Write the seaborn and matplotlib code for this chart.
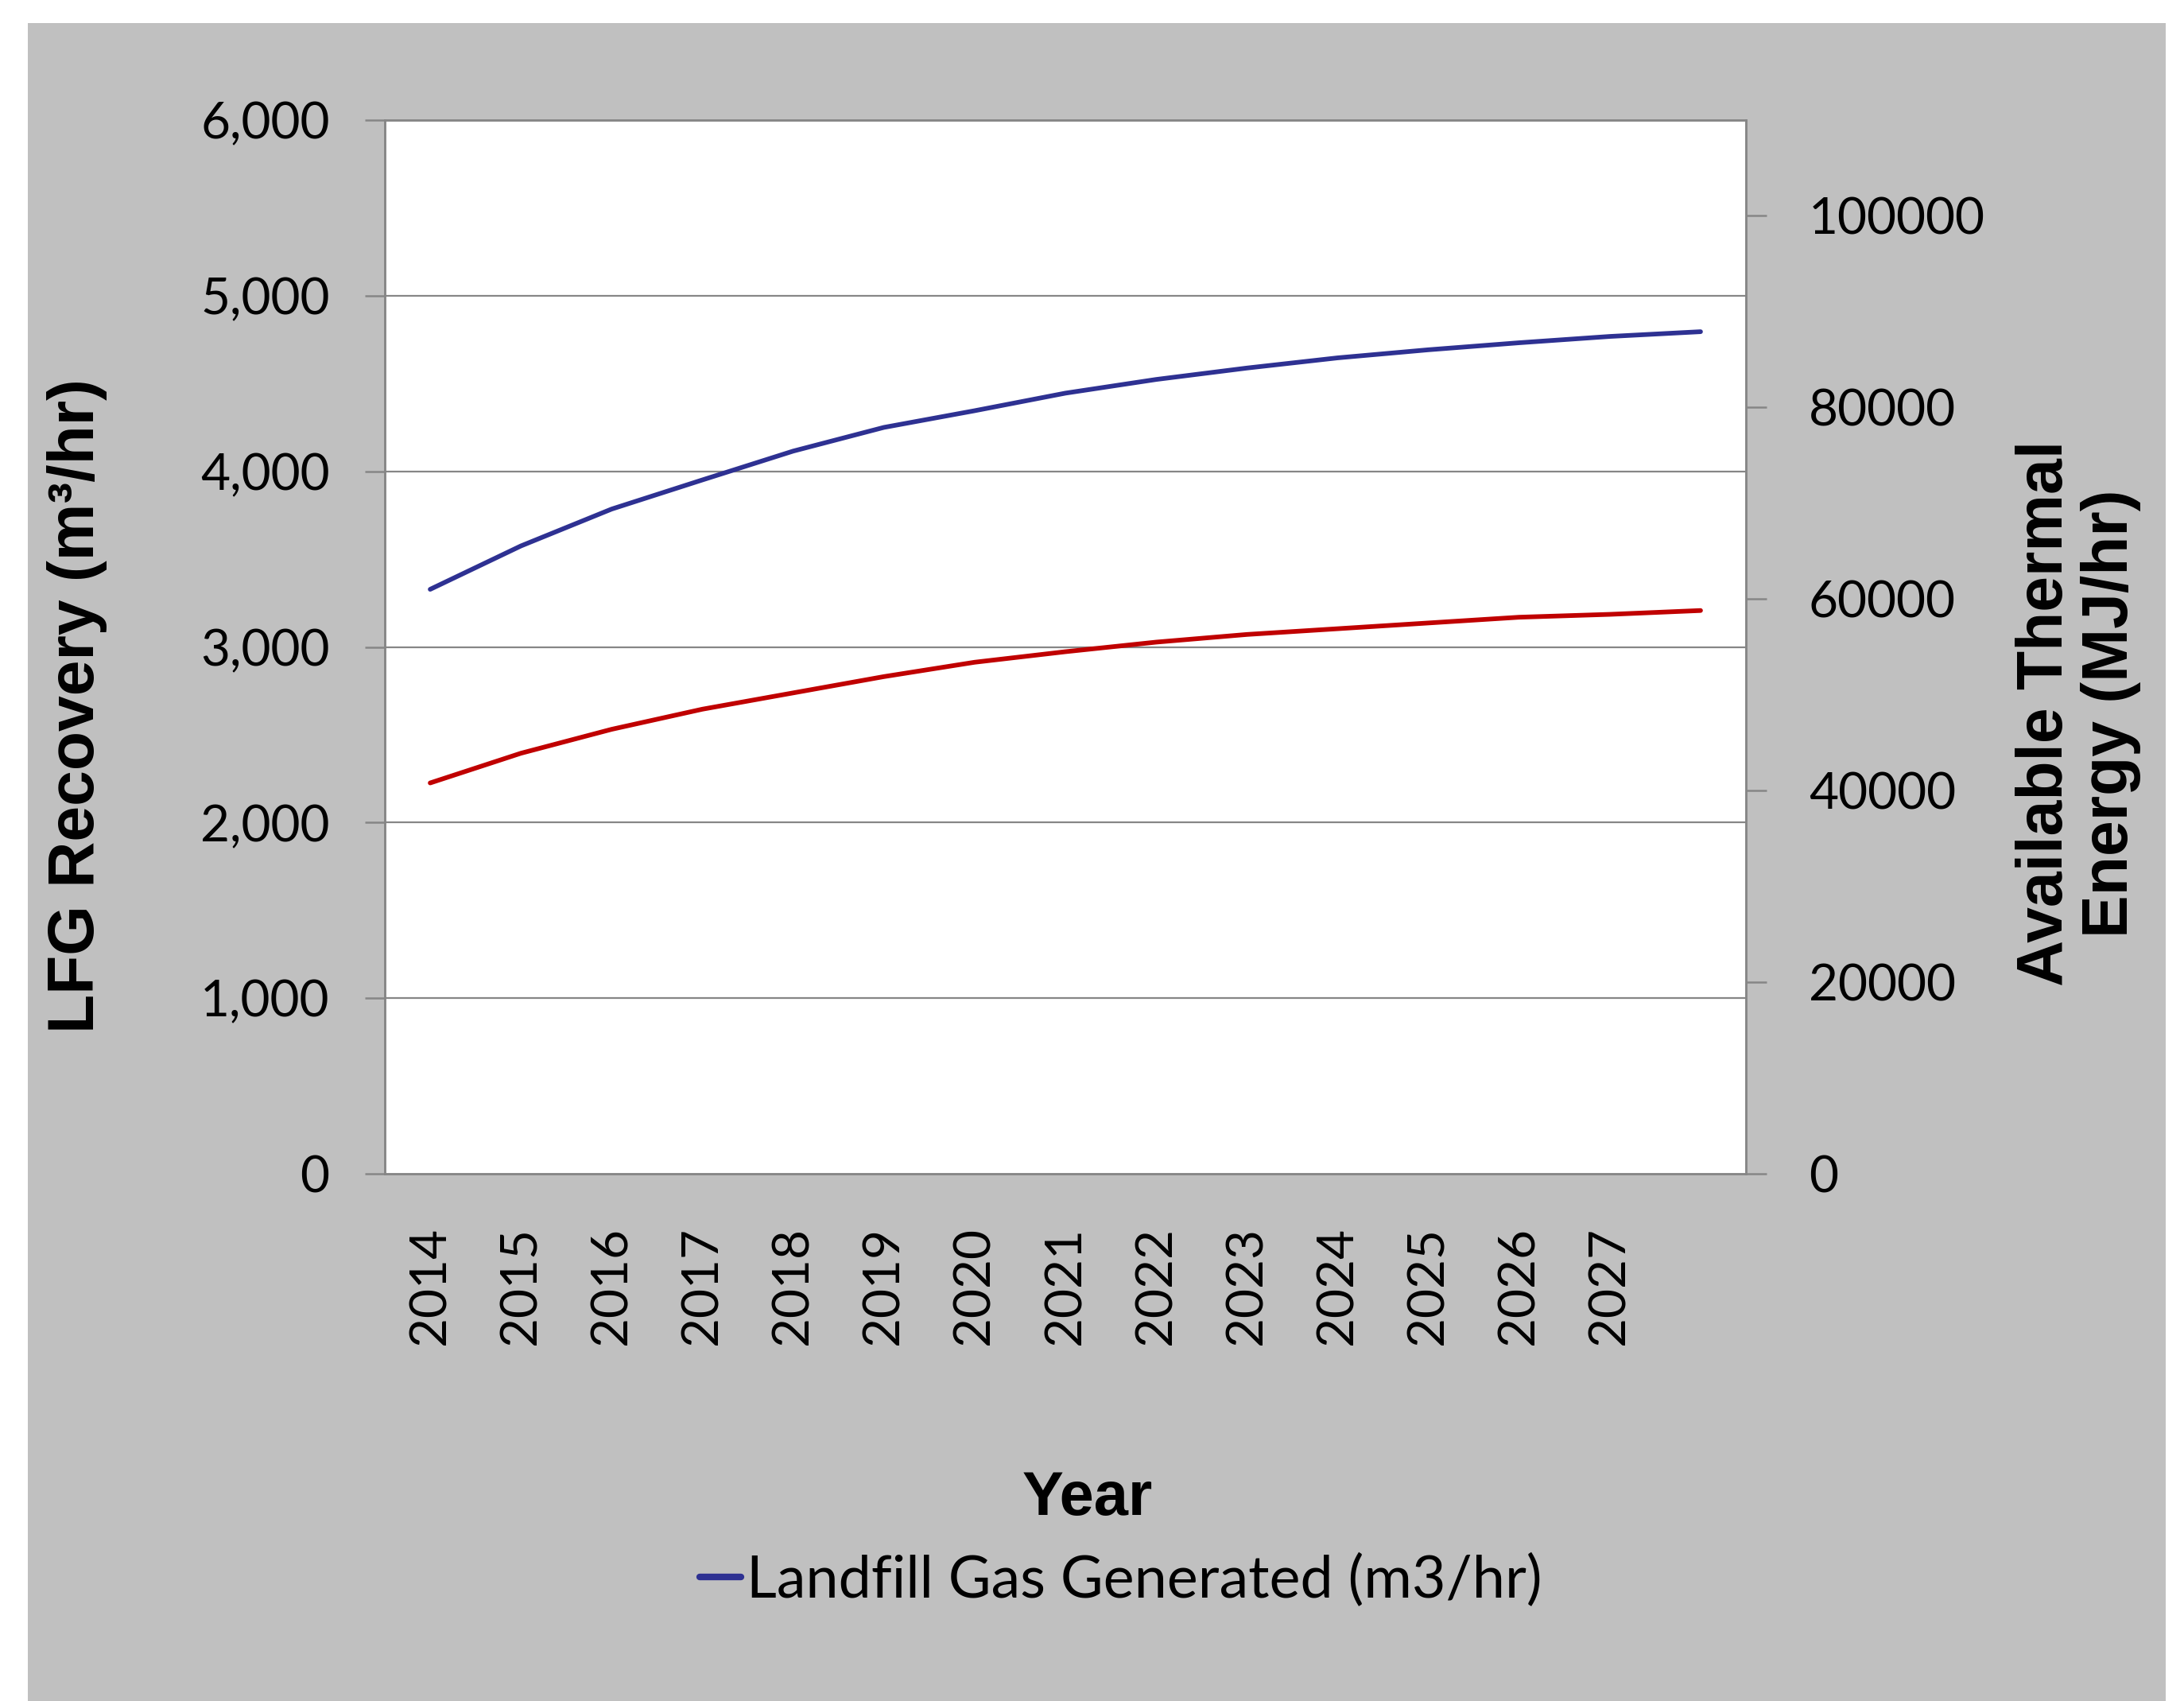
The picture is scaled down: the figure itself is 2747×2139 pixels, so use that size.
import matplotlib
matplotlib.use("Agg")
import matplotlib.pyplot as plt
import matplotlib.patches as mpatches
import seaborn as sns
import pandas as pd

# ---- data ----
years = [2014, 2015, 2016, 2017, 2018, 2019, 2020, 2021, 2022, 2023, 2024, 2025, 2026, 2027, 2028]
lfg_generated = [3328, 3575, 3785, 3951, 4115, 4250, 4345, 4445, 4523, 4588, 4646, 4692, 4732, 4768, 4795]
thermal_energy = [40800, 43900, 46400, 48500, 50200, 51900, 53400, 54500, 55500, 56300, 56900, 57500, 58100, 58400, 58800]
tick_years = [2014, 2015, 2016, 2017, 2018, 2019, 2020, 2021, 2022, 2023, 2024, 2025, 2026, 2027]
left_ticks = [0, 1000, 2000, 3000, 4000, 5000, 6000]
left_labels = ["0", "1,000", "2,000", "3,000", "4,000", "5,000", "6,000"]
right_ticks = [0, 20000, 40000, 60000, 80000, 100000]
right_labels = ["0", "20000", "40000", "60000", "80000", "100000"]

df = pd.DataFrame({"Year": years, "LFG": lfg_generated, "Energy": thermal_energy})

sns.set_style("white")
plt.rcParams["font.family"] = ["Lato", "DejaVu Sans"]
plt.rcParams["text.color"] = "black"
plt.rcParams["xtick.color"] = "black"
plt.rcParams["ytick.color"] = "black"

W, H, DPI = 2747, 2139, 200
fig = plt.figure(figsize=(W / DPI, H / DPI), dpi=DPI, facecolor="white")

# gray chart area
fig.patches.append(mpatches.Rectangle((35 / W, 0), (2724 - 35) / W, (H - 29) / H,
                                      transform=fig.transFigure, facecolor="#C0C0C0",
                                      edgecolor="none", zorder=-10))

left, right, top, bottom = 484 / W, 2196 / W, 151 / H, 1476 / H
ax = fig.add_axes([left, 1 - bottom, right - left, bottom - top])
ax.set_facecolor("white")
ax2 = ax.twinx()

grid_c = "#868686"
blue = "#2E3192"
red = "#C00000"

sns.lineplot(data=df, x="Year", y="LFG", ax=ax, color=blue, linewidth=2.1,
             label="Landfill Gas Generated (m3/hr)", legend=False,
             solid_capstyle="round", solid_joinstyle="round")
sns.lineplot(data=df, x="Year", y="Energy", ax=ax2, color=red, linewidth=2.1,
             legend=False, solid_capstyle="round", solid_joinstyle="round")

ax.set_xlim(2013.5, 2028.5)
ax.set_ylim(0, 6000)
ax2.set_ylim(0, 110000)

ax.set_xticks(tick_years)
ax.set_xticklabels([str(y) for y in tick_years], rotation=90, fontsize=23, color="black")
ax.tick_params(axis="x", length=0, pad=24)

ax.set_yticks(left_ticks)
ax.set_yticklabels(left_labels, fontsize=23, color="black")
ax.tick_params(axis="y", direction="out", length=9, width=0.9, color=grid_c, pad=16, left=True)

ax2.set_yticks(right_ticks)
ax2.set_yticklabels(right_labels, fontsize=23, color="black")
ax2.tick_params(axis="y", direction="out", length=9.4, width=0.9, color=grid_c, pad=19, right=True)

ax.grid(False)
ax2.grid(False)
for v in left_ticks[1:-1]:
    ax.axhline(v, color=grid_c, linewidth=0.8, zorder=0.5)

for a in (ax, ax2):
    for s in a.spines.values():
        s.set_color(grid_c)
        s.set_linewidth(0.9)

ax.set_xlabel("")
ax.set_ylabel("")
ax2.set_ylabel("")

bold = ["Liberation Sans", "DejaVu Sans"]
fig.text(97 / W, 1 - 888 / H, "LFG Recovery (m³/hr)", rotation=90, ha="center", va="center",
         fontsize=29, fontweight="bold", family=bold, color="black")
fig.text(2614 / W, 1 - 897 / H, "Available Thermal\nEnergy (MJ/hr)", rotation=90, ha="center",
         va="center", fontsize=29, fontweight="bold", family=bold, linespacing=1.1,
         multialignment="center", color="black")
fig.text(1368 / W, 1 - 1884 / H, "Year", ha="center", va="center", fontsize=28,
         fontweight="bold", family=bold, color="black")

h, l = ax.get_legend_handles_labels()
leg = fig.legend(h, l, loc="center", bbox_to_anchor=(1410 / W, 1 - 1988 / H),
                 frameon=False, fontsize=26.5, handlelength=0.7, handletextpad=0.1,
                 borderpad=0, borderaxespad=0)
for t in leg.get_texts():
    t.set_color("black")
for line in leg.get_lines():
    line.set_linewidth(3.0)
    line.set_solid_capstyle("round")

fig.savefig("out.png", dpi=DPI, facecolor=fig.get_facecolor())
